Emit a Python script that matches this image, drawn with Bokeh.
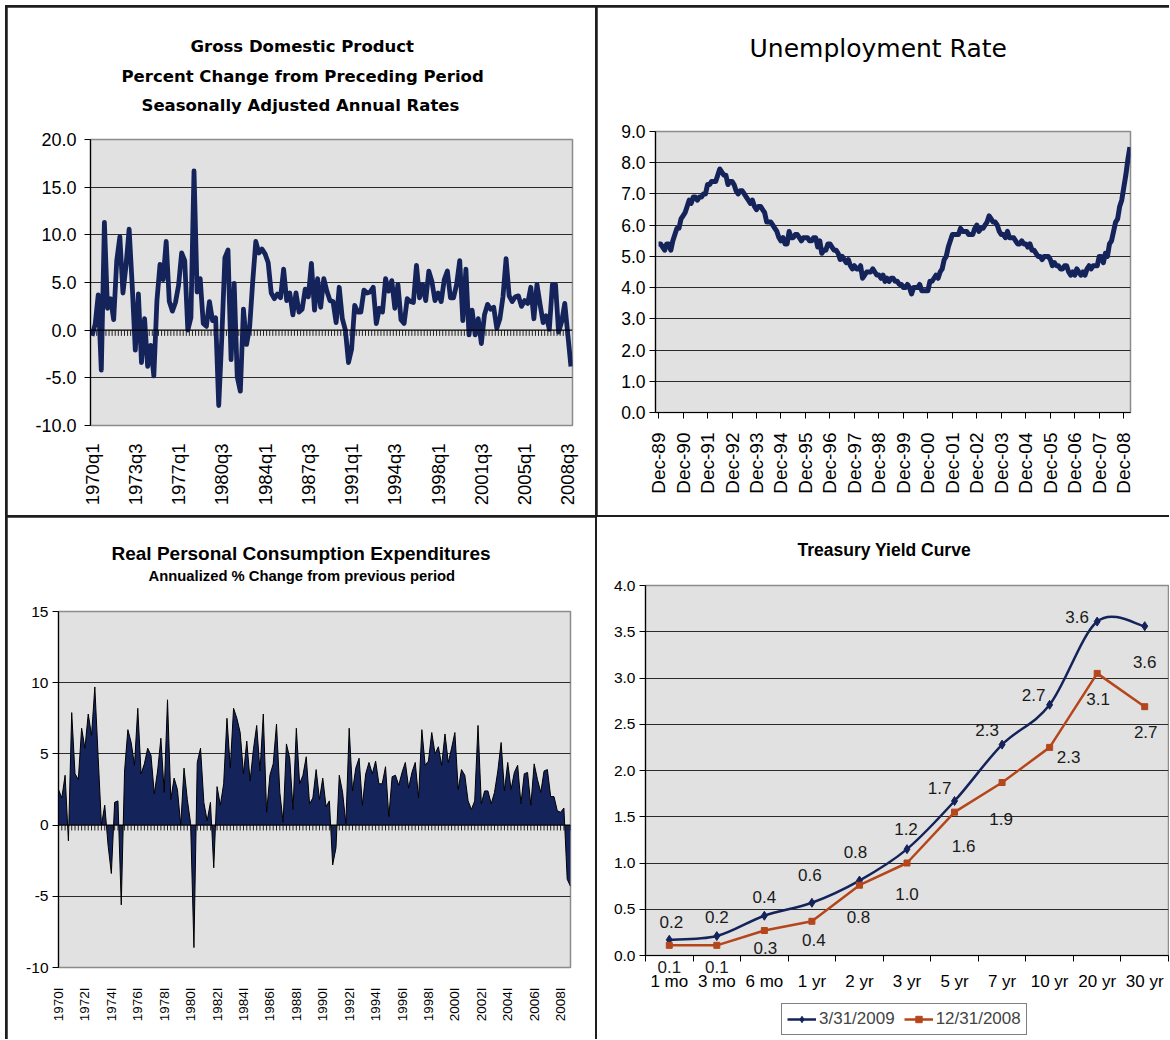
import math
from decimal import Decimal, ROUND_HALF_UP
from bokeh.plotting import figure
from bokeh.models import (Range1d, FixedTicker, LabelSet, ColumnDataSource, Title, LinearAxis,
                          Legend, LegendItem, PrintfTickFormatter, Span)
from bokeh.core.properties import value
from bokeh.layouts import row, column
from bokeh.embed import file_html
from bokeh.resources import INLINE

# ---------------- data ----------------
gdp_quarters = [f"{y}q{q}" for y in range(1970, 2009) for q in (1, 2, 3, 4)]
gdp_tick_labels = ["1970q1", "1973q3", "1977q1", "1980q3", "1984q1", "1987q3",
                   "1991q1", "1994q3", "1998q1", "2001q3", "2005q1", "2008q3"]
gdp_growth = [
    -0.6, 0.6, 3.7, -4.2,   11.3, 2.3, 3.3, 1.1,    7.3, 9.8, 3.9, 6.8,
    10.6, 4.7, -2.1, 3.8,   -3.4, 1.2, -3.8, -1.6,  -4.8, 3.1, 6.9, 5.3,
    9.3, 3.0, 2.0, 2.9,     4.7, 8.1, 7.3, 0.0,     1.3, 16.7, 4.0, 5.4,
    0.7, 0.4, 3.0, 1.0,     1.3, -7.9, -0.7, 7.6,   8.4, -3.1, 4.9, -4.9,
    -6.4, 2.2, -1.5, 0.3,   5.1, 9.3, 8.1, 8.5,     8.0, 7.1, 3.9, 3.3,
    3.8, 3.4, 6.4, 3.1,     3.9, 1.6, 3.9, 1.9,     2.2, 4.3, 3.5, 7.0,
    2.1, 5.4, 2.4, 5.4,     4.1, 3.1, 3.0, 0.8,     4.5, 1.2, 0.0, -3.4,
    -2.0, 2.6, 1.9, 1.9,    4.2, 3.9, 4.0, 4.5,     0.7, 2.3, 1.9, 5.4,
    4.1, 5.2, 2.3, 4.8,     1.1, 0.7, 3.3, 3.0,     2.9, 6.8, 3.4, 4.8,
    3.1, 6.2, 5.1, 3.1,     3.9, 3.0, 5.3, 6.2,     3.4, 3.4, 4.8, 7.3,
    1.0, 6.4, -0.5, 2.1,    -0.5, 1.2, -1.4, 1.6,   2.7, 2.2, 2.4, 0.2,
    1.2, 3.5, 7.5, 3.6,     3.0, 3.5, 3.6, 2.5,     3.1, 2.8, 4.5, 1.2,
    4.8, 2.7, 0.8, 1.5,     0.1, 4.8, 4.8, -0.2,    0.9, 2.8, -0.5, -3.8,
]

unemp_tick_labels = [f"Dec-{y % 100:02d}" for y in range(1989, 2009)]
unemp_rate = [
    5.4,
    5.4, 5.3, 5.2, 5.4, 5.4, 5.2, 5.5, 5.7, 5.9, 5.9, 6.2, 6.3,
    6.4, 6.6, 6.8, 6.7, 6.9, 6.9, 6.8, 6.9, 6.9, 7.0, 7.0, 7.3,
    7.3, 7.4, 7.4, 7.4, 7.6, 7.8, 7.7, 7.6, 7.6, 7.3, 7.4, 7.4,
    7.3, 7.1, 7.0, 7.1, 7.1, 7.0, 6.9, 6.8, 6.7, 6.8, 6.6, 6.5,
    6.6, 6.6, 6.5, 6.4, 6.1, 6.1, 6.1, 6.0, 5.9, 5.8, 5.6, 5.5,
    5.6, 5.4, 5.4, 5.8, 5.6, 5.6, 5.7, 5.7, 5.6, 5.5, 5.6, 5.6,
    5.6, 5.5, 5.5, 5.6, 5.6, 5.3, 5.5, 5.1, 5.2, 5.2, 5.4, 5.4,
    5.3, 5.2, 5.2, 5.1, 4.9, 5.0, 4.9, 4.8, 4.9, 4.7, 4.6, 4.7,
    4.6, 4.6, 4.7, 4.3, 4.4, 4.5, 4.5, 4.5, 4.6, 4.5, 4.4, 4.4,
    4.3, 4.4, 4.2, 4.3, 4.2, 4.3, 4.3, 4.2, 4.2, 4.1, 4.1, 4.0,
    4.0, 4.1, 4.0, 3.8, 4.0, 4.0, 4.0, 4.1, 3.9, 3.9, 3.9, 3.9,
    4.2, 4.2, 4.3, 4.4, 4.3, 4.5, 4.6, 4.9, 5.0, 5.3, 5.5, 5.7,
    5.7, 5.7, 5.7, 5.9, 5.8, 5.8, 5.8, 5.7, 5.7, 5.7, 5.9, 6.0,
    5.8, 5.9, 5.9, 6.0, 6.1, 6.3, 6.2, 6.1, 6.1, 6.0, 5.8, 5.7,
    5.7, 5.6, 5.8, 5.6, 5.6, 5.6, 5.5, 5.4, 5.4, 5.5, 5.4, 5.4,
    5.3, 5.4, 5.2, 5.2, 5.1, 5.0, 5.0, 4.9, 5.0, 5.0, 5.0, 4.9,
    4.7, 4.8, 4.7, 4.7, 4.6, 4.6, 4.7, 4.7, 4.5, 4.4, 4.5, 4.4,
    4.6, 4.5, 4.4, 4.5, 4.4, 4.6, 4.7, 4.6, 4.7, 4.7, 4.7, 5.0,
    5.0, 4.8, 5.1, 5.0, 5.4, 5.5, 5.8, 6.1, 6.2, 6.6, 6.8, 7.2,
    7.6, 8.1, 8.5,
]

pce_quarters = [f"{y}q{q}" for y in range(1970, 2009) for q in (1, 2, 3, 4)]
pce_tick_labels = [f"{y}I" for y in range(1970, 2009, 2)]
pce_growth = [
    2.5, 1.9, 3.5, -1.1,    7.9, 3.6, 3.2, 6.8,     5.4, 7.8, 6.3, 9.7,
    4.8, 0.0, 1.4, -1.4,    -3.4, 1.6, 1.7, -5.6,   3.8, 6.7, 5.8, 4.2,
    8.2, 3.6, 4.3, 5.4,     4.9, 2.2, 3.8, 6.1,     2.3, 8.8, 1.8, 3.3,
    2.5, 0.0, 4.0, 1.8,     0.1, -8.6, 4.4, 5.4,    1.6, 0.3, 1.6, -3.0,
    2.7, 1.4, 2.9, 7.5,     4.0, 8.2, 7.5, 6.5,     3.6, 5.9, 3.1, 5.3,
    7.0, 3.8, 7.8, 0.9,     3.5, 4.3, 7.1, 2.3,     0.2, 5.7, 4.7, 1.1,
    6.8, 2.9, 3.5, 4.8,     1.5, 1.9, 3.9, 1.8,     3.3, 1.3, 1.7, -2.8,
    -1.6, 3.5, 2.3, 0.1,    6.8, 2.4, 4.0, 4.7,     1.4, 3.6, 4.4, 3.6,
    4.5, 2.9, 2.9, 4.1,     0.6, 3.4, 3.5, 2.8,     3.7, 4.4, 2.6, 3.7,
    4.4, 1.9, 6.7, 4.2,     4.5, 6.5, 5.0, 5.5,     4.2, 6.4, 4.4, 5.4,
    6.5, 2.5, 3.9, 3.5,     1.7, 1.1, 1.7, 7.0,     1.5, 2.4, 2.4, 1.5,
    2.3, 3.8, 5.8, 2.4,     4.4, 2.5, 3.7, 4.2,     1.5, 3.6, 3.7, 1.4,
    4.3, 3.2, 2.3, 3.8,     3.9, 2.0, 2.0, 1.0,     0.9, 1.2, -3.8, -4.3,
]

yc_maturities = ["1 mo", "3 mo", "6 mo", "1 yr", "2 yr", "3 yr", "5 yr", "7 yr", "10 yr", "20 yr", "30 yr"]
yc_mar2009 = [0.17, 0.21, 0.43, 0.57, 0.81, 1.15, 1.67, 2.28, 2.71, 3.61, 3.56]
yc_dec2008 = [0.11, 0.11, 0.27, 0.37, 0.76, 1.00, 1.55, 1.87, 2.25, 3.05, 2.69]
yc_series_names = ["3/31/2009", "12/31/2008"]

# ---------------- style ----------------
NAVY = "#15235b"
ORANGE = "#b5461b"
PLOT_BG = "#e1e1e1"
GRID = "#2b2b2b"
FRAME = "#8c8c8c"
FONT = "Liberation Sans"


def make_fig(w, h, l, r, t, b, xr, yr, **kw):
    p = figure(width=w, height=h, x_range=Range1d(*xr), y_range=Range1d(*yr),
               output_backend="svg", toolbar_location=None, frame_align=False,
               min_border_left=l, min_border_right=r, min_border_top=t, min_border_bottom=b, **kw)
    p.background_fill_color = PLOT_BG
    p.border_fill_color = "white"
    p.outline_line_color = FRAME
    p.outline_line_width = 1.5
    p.xgrid.visible = False
    p.ygrid.grid_line_color = GRID
    p.ygrid.grid_line_width = 1
    return p


def style_y(p, ticks, grid_ticks, fmt, size, standoff=4):
    ax = p.yaxis[0]
    ax.ticker = FixedTicker(ticks=ticks)
    p.ygrid.ticker = FixedTicker(ticks=grid_ticks)
    ax.formatter = PrintfTickFormatter(format=fmt)
    ax.axis_line_color = "black"
    ax.axis_line_width = 1.2
    ax.major_tick_line_color = "black"
    ax.major_tick_out = 6
    ax.major_tick_in = 0
    ax.minor_tick_line_color = None
    ax.major_label_text_font = FONT
    ax.major_label_text_font_size = size
    ax.major_label_text_color = "black"
    ax.major_label_standoff = standoff


def add_titles(p, lines, frame_top, frame_left):
    """lines: (text, center_y_page, left_x_page, font_px, bold, font) from top to bottom."""
    k = len(lines)
    heights = [0.0] * k
    heights[-1] = (lines[-1][1] - lines[-2][1]) if k > 1 else 30.0
    band_top = lines[-1][1] - heights[-1] / 2
    for i in range(k - 2, -1, -1):
        heights[i] = 2 * (band_top - lines[i][1])
        band_top = lines[i][1] - heights[i] / 2
    spacer = frame_top - (lines[-1][1] + heights[-1] / 2)
    p.add_layout(Title(text=" ", text_font_size="1px", standoff=int(round(spacer - 3.2))), "above")
    for i in range(k - 1, -1, -1):
        text, cy, lx, fs, bold, font = lines[i]
        th = 1.16 * fs
        p.add_layout(Title(text=text, align="left", offset=lx - frame_left, vertical_align="middle",
                           standoff=int(round(heights[i] - 2 - th)), text_font=font,
                           text_font_size=f"{fs}px", text_font_style="bold" if bold else "normal",
                           text_color="black"), "above")


# ---------------- GDP ----------------
gx = list(range(len(gdp_growth)))
g_xr, g_yr = (-0.5, len(gdp_growth) - 0.5), (-10, 20)
p1 = make_fig(588, 508, 83, 23, 132, 90, g_xr, g_yr)
style_y(p1, list(range(-10, 21, 5)), [-5, 5, 10, 15], "%.1f", "18px", standoff=8)
ax = p1.xaxis[0]
ax.ticker = FixedTicker(ticks=[i for i, q in enumerate(gdp_quarters) if q in gdp_tick_labels])
ax.major_label_overrides = {i: q for i, q in enumerate(gdp_quarters) if q in gdp_tick_labels}
ax.axis_line_color = None
ax.major_tick_line_color = None
ax.minor_tick_line_color = None
ax.major_label_orientation = math.pi / 2
ax.major_label_text_font = FONT
ax.major_label_text_font_size = "18.5px"
ax.major_label_text_color = "black"
ax.major_label_standoff = 12
p1.add_layout(Span(location=0, dimension="width", line_color="black", line_width=1.3))
p1.segment(x0=[i - 0.5 for i in gx], y0=[0] * len(gx), x1=[i - 0.5 for i in gx],
           y1=[-0.6] * len(gx), line_color="#222222", line_width=1)
p1.line(gx, gdp_growth, line_color=NAVY, line_width=4.8, line_join="round")
add_titles(p1, [("Gross Domestic Product", 45, 190, 16.5, True, "DejaVu Sans"),
                ("Percent Change from Preceding Period", 75, 121, 16.5, True, "DejaVu Sans"),
                ("Seasonally Adjusted Annual Rates", 104, 141, 16.5, True, "DejaVu Sans")], 139, 90)

# ---------------- Unemployment ----------------
ux = list(range(len(unemp_rate)))
u_xr, u_yr = (-1.5, 231.3), (0, 9)
p2 = make_fig(572, 508, 58, 39, 124, 103, u_xr, u_yr)
style_y(p2, list(range(0, 10)), list(range(1, 9)), "%.1f", "17.5px")
ax = p2.xaxis[0]
ax.ticker = FixedTicker(ticks=[12 * k for k in range(len(unemp_tick_labels))])
ax.major_label_overrides = {12 * k: t for k, t in enumerate(unemp_tick_labels)}
ax.axis_line_color = "black"
ax.axis_line_width = 1.2
ax.major_tick_line_color = "black"
ax.major_tick_out = 6
ax.major_tick_in = 0
ax.minor_tick_line_color = None
ax.major_label_orientation = math.pi / 2
ax.major_label_text_font = FONT
ax.major_label_text_font_size = "19px"
ax.major_label_text_color = "black"
ax.major_label_standoff = 14
p2.line(ux, unemp_rate, line_color=NAVY, line_width=5, line_join="round")
add_titles(p2, [("Unemployment Rate", 48, 749, 25, False, "DejaVu Sans")], 131, 655)

# ---------------- PCE ----------------
cx = list(range(len(pce_growth)))
c_xr, c_yr = (0, len(pce_growth) - 1), (-10, 15)
p3 = make_fig(588, 522, 51, 25, 94, 72, c_xr, c_yr)
style_y(p3, list(range(-10, 16, 5)), [-5, 5, 10], "%d", "15.5px")
ax = p3.xaxis[0]
ax.ticker = FixedTicker(ticks=[8 * k for k in range(len(pce_tick_labels))])
ax.major_label_overrides = {8 * k: t for k, t in enumerate(pce_tick_labels)}
ax.axis_line_color = None
ax.major_tick_line_color = None
ax.minor_tick_line_color = None
ax.major_label_orientation = math.pi / 2
ax.major_label_text_font = FONT
ax.major_label_text_font_size = "13.5px"
ax.major_label_text_color = "black"
ax.major_label_standoff = 14
p3.varea(x=cx, y1=[0] * len(cx), y2=pce_growth, fill_color=NAVY)
p3.line(cx, pce_growth, line_color="black", line_width=1)
p3.add_layout(Span(location=0, dimension="width", line_color="black", line_width=1.3))
p3.segment(x0=cx, y0=[0] * len(cx), x1=cx, y1=[-0.38] * len(cx), line_color="#222222", line_width=1)
add_titles(p3, [("Real Personal Consumption Expenditures", 551, 111, 19, True, FONT),
                ("Annualized % Change from previous period", 575, 148, 14.8, True, FONT)], 611, 58)

# ---------------- Treasury yield curve ----------------
tx = list(range(len(yc_maturities)))
t_xr, t_yr = (-0.5, len(yc_maturities) - 0.5), (0, 4)
p4 = make_fig(572, 485, 48, 1, 68, 47, t_xr, t_yr, x_axis_location=None)
style_y(p4, [k * 0.5 for k in range(9)], [k * 0.5 for k in range(1, 8)], "%.1f", "15.5px")


def fmt1(v):
    return str(Decimal(str(v)).quantize(Decimal("0.1"), rounding=ROUND_HALF_UP))


below_idx = [0, 1]  # 12/31/2008 labels that sit under the axis line
ax_a = LinearAxis(ticker=FixedTicker(ticks=below_idx, minor_ticks=[i - 0.5 for i in range(len(tx) + 1)]),
                  major_label_overrides={i: fmt1(yc_dec2008[i]) for i in below_idx},
                  axis_line_color="black", axis_line_width=1.2,
                  major_tick_line_color=None, major_tick_out=0, major_tick_in=0,
                  minor_tick_line_color="black", minor_tick_out=6, minor_tick_in=0,
                  major_label_text_font=FONT, major_label_text_font_size="17px",
                  major_label_text_color="#1a1a1a", major_label_standoff=-1)
p4.add_layout(ax_a, "below")
ax_b = LinearAxis(ticker=FixedTicker(ticks=tx, minor_ticks=[]),
                  major_label_overrides={i: m for i, m in enumerate(yc_maturities)},
                  axis_line_color=None, major_tick_line_color=None, minor_tick_line_color=None,
                  major_tick_out=0, major_tick_in=0, minor_tick_out=0, minor_tick_in=0,
                  major_label_text_font=FONT, major_label_text_font_size="17px",
                  major_label_text_color="black", major_label_standoff=-4)
p4.add_layout(ax_b, "below")

# smoothed (Excel-like) curve for 3/31/2009 via Bezier segments
n = len(tx)
bx0, by0, bx1, by1, bcx0, bcy0, bcx1, bcy1 = [], [], [], [], [], [], [], []
for i in range(n - 1):
    a = i - 1 if i > 0 else i
    d = i + 2 if i + 2 < n else i + 1
    bx0.append(tx[i]); by0.append(yc_mar2009[i])
    bx1.append(tx[i + 1]); by1.append(yc_mar2009[i + 1])
    bcx0.append(tx[i] + (tx[i + 1] - tx[a]) / 6)
    bcy0.append(yc_mar2009[i] + (yc_mar2009[i + 1] - yc_mar2009[a]) / 6)
    bcx1.append(tx[i + 1] - (tx[d] - tx[i]) / 6)
    bcy1.append(yc_mar2009[i + 1] - (yc_mar2009[d] - yc_mar2009[i]) / 6)
p4.bezier(x0=bx0, y0=by0, x1=bx1, y1=by1, cx0=bcx0, cy0=bcy0, cx1=bcx1, cy1=bcy1,
          line_color=NAVY, line_width=2.5)
p4.scatter(tx, yc_mar2009, marker="diamond", size=9, fill_color=NAVY, line_color=NAVY)
p4.line(tx, yc_dec2008, line_color=ORANGE, line_width=2.5)
p4.scatter(tx, yc_dec2008, marker="square", size=6, fill_color=ORANGE, line_color=ORANGE)

# label offsets (screen px: dx right, dy down)
nav_dx = [2, 0, 0, -2, -4, -1, -15, -15, -16, -20, 0]
nav_dy = [-18, -19, -19, -28, -29, -20, -13, -15, -10, -5, 36]
org_dx = [2, 0, 1, 2, -1, 0, 9, -1, 19, 1, 1]
org_dy = [22, 21, 17, 19, 32, 31, 34, 36, 10, 26, 25]
keep = [i for i in tx if i not in below_idx]
lab_src = ColumnDataSource(dict(
    x=tx + keep,
    y=yc_mar2009 + [yc_dec2008[i] for i in keep],
    text=[fmt1(v) for v in yc_mar2009] + [fmt1(yc_dec2008[i]) for i in keep],
    xo=nav_dx + [org_dx[i] for i in keep],
    yo=[-d for d in nav_dy] + [-org_dy[i] for i in keep],
))
p4.add_layout(LabelSet(x="x", y="y", text="text", x_offset="xo", y_offset="yo", source=lab_src,
                       text_align="center", text_baseline="middle", text_font=value(FONT),
                       text_font_size="17px", text_color="#1a1a1a"))
add_titles(p4, [("Treasury Yield Curve", 549, 797, 17.5, True, FONT)], 585, 645)

# legend strip under the yield-curve chart: the series' renderers sit outside its view,
# so only the legend key shows
lf = figure(width=572, height=37, x_range=Range1d(100, 101), y_range=Range1d(100, 101),
            output_backend="svg", toolbar_location=None, frame_align=False, min_border=0,
            x_axis_location=None, y_axis_location=None)
lf.outline_line_color = None
lf.grid.visible = False
lf.background_fill_color = "white"
lf.border_fill_color = "white"
k_line1 = lf.line(tx, yc_mar2009, line_color=NAVY, line_width=2.5)
k_mark1 = lf.scatter(tx, yc_mar2009, marker="diamond", size=9, fill_color=NAVY, line_color=NAVY)
k_line2 = lf.line(tx, yc_dec2008, line_color=ORANGE, line_width=2.5)
k_mark2 = lf.scatter(tx, yc_dec2008, marker="square", size=6, fill_color=ORANGE, line_color=ORANGE)
legend = Legend(items=[LegendItem(label=yc_series_names[0], renderers=[k_line1, k_mark1]),
                       LegendItem(label=yc_series_names[1], renderers=[k_line2, k_mark2])],
                location=(184, 4), orientation="horizontal",
                label_text_font=FONT, label_text_font_size="17px",
                glyph_width=29, glyph_height=16, label_standoff=3, spacing=9,
                padding=5, margin=0, border_line_color="black", border_line_width=1,
                background_fill_color="white", background_fill_alpha=1.0)
lf.add_layout(legend)

br = column(p4, lf, spacing=0, styles={"background-color": "white"})
layout = column(row(p1, p2, spacing=2), row(p3, br, spacing=2), spacing=2,
                styles={"background-color": "#1e1e1e", "padding": "2px 0px 0px 2px",
                        "margin": "5px 0px 0px 5px"})

open("out.html", "w").write(file_html(layout, INLINE))
